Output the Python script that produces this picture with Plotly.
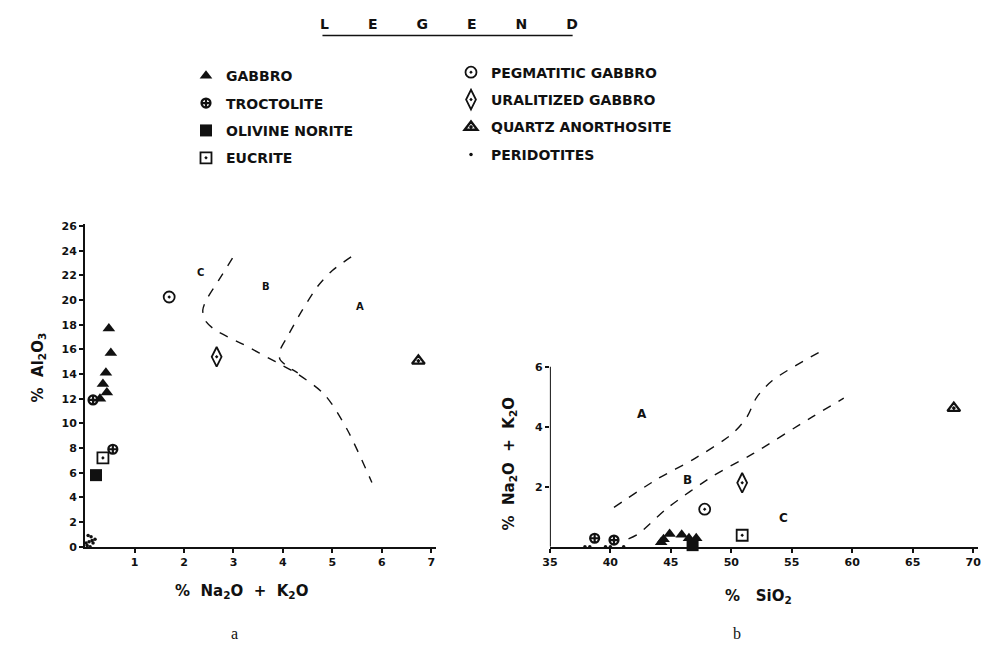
import plotly.graph_objects as go

# ---------------- data: panel a (Na2O+K2O vs Al2O3) ----------------
gabbro_a_x = [0.48, 0.52, 0.42, 0.36, 0.44, 0.30]
gabbro_a_y = [17.7, 15.7, 14.1, 13.2, 12.5, 12.0]
troct_a_x = [0.16, 0.56]
troct_a_y = [11.9, 7.9]
olnor_a_x = [0.22]
olnor_a_y = [5.8]
eucr_a_x = [0.36]
eucr_a_y = [7.2]
pegm_a_x = [1.70]
pegm_a_y = [20.25]
ural_a_x = [2.66]
ural_a_y = [15.4]
qanor_a_x = [6.74]
qanor_a_y = [15.07]
perid_a_x = [0.04, 0.08, 0.12, 0.16, 0.20, 0.10, 0.14, 0.06, 0.02]
perid_a_y = [0.10, 0.40, 0.80, 0.30, 0.60, 0.00, 0.50, 0.90, 0.30]

bound_c_a_x = [2.98, 2.70, 2.45, 2.38, 2.42, 2.62, 3.20, 3.85, 4.30, 4.85, 5.30, 5.80]
bound_c_a_y = [23.4, 21.6, 20.0, 19.2, 18.4, 17.6, 16.4, 15.0, 14.0, 12.3, 9.5, 5.2]
bound_b_a_x = [5.38, 5.00, 4.70, 4.38, 4.10, 3.94, 3.94, 4.10, 4.30]
bound_b_a_y = [23.5, 22.4, 21.1, 19.1, 17.1, 15.9, 15.2, 14.6, 14.1]

region_a_text = ["A", "B", "C"]
region_a_x = [5.56, 3.66, 2.34]
region_a_y = [19.5, 21.1, 22.2]

ticks_a_x = [1, 2, 3, 4, 5, 6, 7]
ticks_a_y = [0, 2, 4, 6, 8, 10, 12, 14, 16, 18, 20, 22, 24, 26]

# ---------------- data: panel b (SiO2 vs Na2O+K2O) ----------------
gabbro_b_x = [44.2, 44.4, 44.9, 45.9, 46.5, 47.1]
gabbro_b_y = [0.15, 0.25, 0.42, 0.40, 0.28, 0.28]
troct_b_x = [38.7, 40.3]
troct_b_y = [0.28, 0.22]
olnor_b_x = [46.8]
olnor_b_y = [0.05]
eucr_b_x = [50.9]
eucr_b_y = [0.38]
pegm_b_x = [47.8]
pegm_b_y = [1.25]
ural_b_x = [50.9]
ural_b_y = [2.13]
qanor_b_x = [68.4]
qanor_b_y = [4.62]
perid_b_x = [37.9, 38.3, 39.6, 40.0, 41.1]
perid_b_y = [0.0, 0.0, 0.0, 0.0, 0.0]

bound_up_b_x = [40.3, 43.9, 46.9, 50.1, 51.3, 52.1, 53.4, 57.6]
bound_up_b_y = [1.31, 2.26, 2.92, 3.77, 4.33, 4.98, 5.54, 6.56]
bound_lo_b_x = [41.5, 42.3, 44.7, 48.5, 51.8, 56.7, 59.3]
bound_lo_b_y = [0.26, 0.42, 1.28, 2.36, 3.10, 4.33, 4.95]

region_b_text = ["A", "B", "C"]
region_b_x = [42.6, 46.4, 54.3]
region_b_y = [4.43, 2.23, 0.95]

ticks_b_x = [35, 40, 45, 50, 55, 60, 65, 70]
ticks_b_y = [2, 4, 6]

# ---------------- styles ----------------
FONT = "DejaVu Sans"
INK = "#111111"
W, H = 986, 649


def px_x(p):
    return p / W


def px_y(p):
    return 1 - p / H


styles = {
    "GABBRO": dict(symbol="triangle-up", size=11, color=INK, line=dict(width=0)),
    "TROCTOLITE": dict(symbol="circle-cross-open", size=9, color=INK, line=dict(width=2.2, color=INK)),
    "OLIVINE NORITE": dict(symbol="square", size=12, color=INK, line=dict(width=0)),
    "EUCRITE": dict(symbol="square-open-dot", size=11, color=INK, line=dict(width=1.8, color=INK)),
    "PEGMATITIC GABBRO": dict(symbol="circle-open-dot", size=11, color=INK, line=dict(width=1.8, color=INK)),
    "URALITIZED GABBRO": dict(symbol="diamond-tall-open-dot", size=14, color=INK, line=dict(width=1.8, color=INK)),
    "QUARTZ ANORTHOSITE": dict(symbol="triangle-up-open-dot", size=11, color=INK, line=dict(width=2.4, color=INK)),
    "PERIDOTITES": dict(symbol="circle", size=3.5, color=INK, line=dict(width=0)),
}

legend_of = {
    "GABBRO": "legend", "TROCTOLITE": "legend", "OLIVINE NORITE": "legend", "EUCRITE": "legend",
    "PEGMATITIC GABBRO": "legend2", "URALITIZED GABBRO": "legend2",
    "QUARTZ ANORTHOSITE": "legend2", "PERIDOTITES": "legend2",
}

series = [
    ("GABBRO", gabbro_a_x, gabbro_a_y, gabbro_b_x, gabbro_b_y),
    ("TROCTOLITE", troct_a_x, troct_a_y, troct_b_x, troct_b_y),
    ("OLIVINE NORITE", olnor_a_x, olnor_a_y, olnor_b_x, olnor_b_y),
    ("EUCRITE", eucr_a_x, eucr_a_y, eucr_b_x, eucr_b_y),
    ("PEGMATITIC GABBRO", pegm_a_x, pegm_a_y, pegm_b_x, pegm_b_y),
    ("URALITIZED GABBRO", ural_a_x, ural_a_y, ural_b_x, ural_b_y),
    ("QUARTZ ANORTHOSITE", qanor_a_x, qanor_a_y, qanor_b_x, qanor_b_y),
    ("PERIDOTITES", perid_a_x, perid_a_y, perid_b_x, perid_b_y),
]

fig = go.Figure()

dash_line = dict(color=INK, width=1.4, dash="dash", shape="spline", smoothing=0.8)
for bx, by in [(bound_c_a_x, bound_c_a_y), (bound_b_a_x, bound_b_a_y)]:
    fig.add_trace(go.Scatter(x=bx, y=by, mode="lines", line=dash_line, showlegend=False,
                             hoverinfo="skip", xaxis="x", yaxis="y"))
for bx, by in [(bound_up_b_x, bound_up_b_y), (bound_lo_b_x, bound_lo_b_y)]:
    fig.add_trace(go.Scatter(x=bx, y=by, mode="lines", line=dash_line, showlegend=False,
                             hoverinfo="skip", xaxis="x2", yaxis="y2"))

for name, ax, ay, bxx, byy in series:
    st = styles[name]
    fig.add_trace(go.Scatter(x=ax, y=ay, mode="markers", name=name, marker=st,
                             legend=legend_of[name], legendgroup=name, showlegend=True,
                             cliponaxis=False, xaxis="x", yaxis="y"))
    fig.add_trace(go.Scatter(x=bxx, y=byy, mode="markers", name=name, marker=st,
                             legendgroup=name, showlegend=False,
                             cliponaxis=False, xaxis="x2", yaxis="y2"))

tick_font = dict(family=FONT, size=11, color=INK, weight="bold")
axis_common = dict(showgrid=False, zeroline=False, showline=True, linecolor=INK, linewidth=2,
                   ticks="outside", ticklen=4, tickwidth=1.5, tickcolor=INK, tickfont=tick_font,
                   mirror=False)

# panel a geometry (pixels): x 0 -> 78px, 50 px/unit ; y 0 -> 552px, 12.54 px/unit
ax0, ay0 = 78, 552
xa_max, ya_max = 7.1, 26.2
# panel b geometry: x 35 -> 548px, 12.23 px/unit ; y 0 -> 552px, 30.5 px/unit
bx0, by0 = 548, 552
xb_min, xb_max, yb_max = 35, 70.4, 6.7

legend_font = dict(family=FONT, size=14, color=INK, weight="bold")
fig.update_layout(
    width=W, height=H, margin=dict(l=0, r=0, t=0, b=0),
    paper_bgcolor="white", plot_bgcolor="white",
    font=dict(family=FONT, color=INK),
    xaxis=dict(axis_common, domain=[px_x(ax0), px_x(ax0 + xa_max * 50)], range=[0, xa_max],
               tickvals=ticks_a_x, anchor="y"),
    yaxis=dict(axis_common, domain=[px_y(ay0), px_y(ay0 - ya_max * 12.54)], range=[0, ya_max],
               tickvals=ticks_a_y, anchor="x"),
    xaxis2=dict(axis_common, domain=[px_x(bx0), px_x(bx0 + (xb_max - xb_min) * 12.23)],
                range=[xb_min, xb_max], tickvals=ticks_b_x, anchor="y2"),
    yaxis2=dict(axis_common, showline=False, domain=[px_y(by0), px_y(by0 - yb_max * 30.5)],
                range=[0, yb_max], tickvals=ticks_b_y, anchor="x2"),
    legend=dict(x=px_x(180), y=px_y(57), xanchor="left", yanchor="top", bgcolor="rgba(0,0,0,0)",
                font=legend_font, tracegroupgap=6.2,
                itemsizing="trace", traceorder="grouped"),
    legend2=dict(x=px_x(448), y=px_y(53.5), xanchor="left", yanchor="top", bgcolor="rgba(0,0,0,0)",
                 font=legend_font, tracegroupgap=6.2,
                 itemsizing="trace", traceorder="grouped"),
    showlegend=True,
)

# y-axis line of panel b ends at 6 (dashed curve may run above it)
fig.add_shape(type="line", xref="x2", yref="y2", x0=xb_min, x1=xb_min, y0=0, y1=6,
              line=dict(color=INK, width=2))

# legend heading with underline
fig.add_annotation(x=px_x(446), y=px_y(20), xref="paper", yref="paper", showarrow=False,
                   xanchor="center", yanchor="middle",
                   text="L        E        G        E        N        D",
                   font=dict(family=FONT, size=14, color=INK, weight="bold"))
fig.add_shape(type="line", xref="paper", yref="paper", x0=px_x(318), x1=px_x(571),
              y0=px_y(32), y1=px_y(32), line=dict(color=INK, width=1.5))

# region labels
for t, x, y in zip(region_a_text, region_a_x, region_a_y):
    fig.add_annotation(x=x, y=y, xref="x", yref="y", text=t, showarrow=False,
                       xanchor="center", yanchor="middle",
                       font=dict(family=FONT, size=10, color=INK, weight="bold"))
for t, x, y in zip(region_b_text, region_b_x, region_b_y):
    fig.add_annotation(x=x, y=y, xref="x2", yref="y2", text=t, showarrow=False,
                       xanchor="center", yanchor="middle",
                       font=dict(family=FONT, size=12, color=INK, weight="bold"))

title_font = dict(family=FONT, size=15, color=INK, weight="bold")
fig.add_annotation(x=px_x(236), y=px_y(598), xref="paper", yref="paper", showarrow=False,
                   xanchor="center", yanchor="middle",
                   text="%  Na<sub>2</sub>O  +  K<sub>2</sub>O", font=title_font)
fig.add_annotation(x=px_x(31), y=px_y(370), xref="paper", yref="paper", showarrow=False,
                   xanchor="center", yanchor="middle",
                   text="%  Al<sub>2</sub>O<sub>3</sub>", textangle=-90, font=title_font)
fig.add_annotation(x=px_x(759), y=px_y(603), xref="paper", yref="paper", showarrow=False,
                   xanchor="center", yanchor="middle",
                   text="%   SiO<sub>2</sub>", font=title_font)
fig.add_annotation(x=px_x(507), y=px_y(468), xref="paper", yref="paper", showarrow=False,
                   xanchor="center", yanchor="middle",
                   text="%  Na<sub>2</sub>O  +  K<sub>2</sub>O", textangle=-90, font=title_font)

panel_font = dict(family="Liberation Serif", size=16, color=INK)
fig.add_annotation(x=px_x(229), y=px_y(640), xref="paper", yref="paper", showarrow=False,
                   xanchor="center", yanchor="middle", text="a", font=panel_font)
fig.add_annotation(x=px_x(737), y=px_y(640), xref="paper", yref="paper", showarrow=False,
                   xanchor="center", yanchor="middle", text="b", font=panel_font)

fig.write_html("out.html")
